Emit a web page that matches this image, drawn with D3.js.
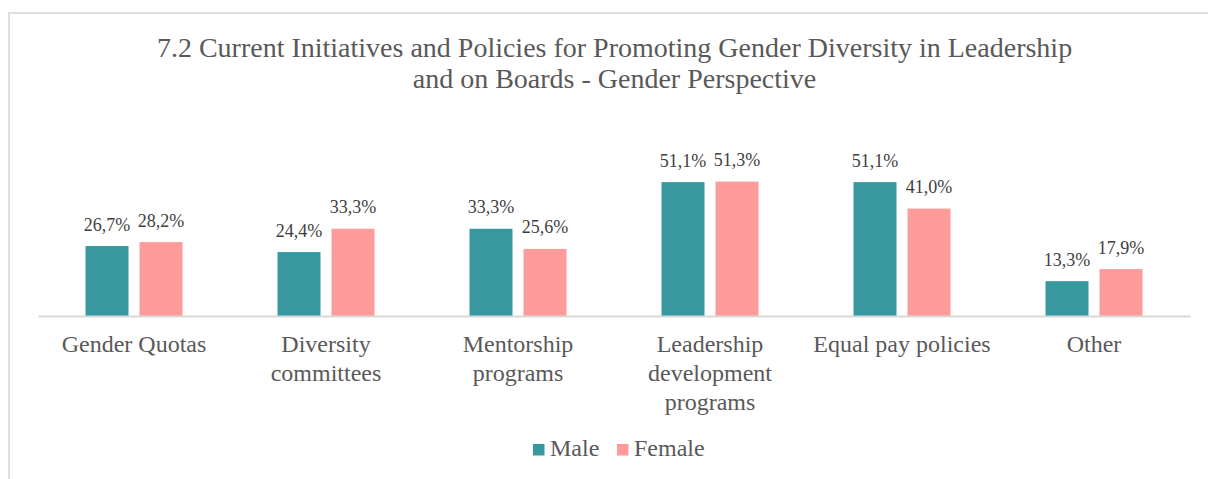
<!DOCTYPE html>
<html>
<head>
<meta charset="utf-8">
<script src="https://cdn.jsdelivr.net/npm/d3@7"></script>
<style>
  html, body { margin: 0; padding: 0; background: #fff; }
  svg { display: block; }
  text { font-family: "Liberation Serif", "Times New Roman", serif; }
</style>
</head>
<body>
<svg id="chart" width="1208" height="479"></svg>
<script>
const titleLines = ["7.2 Current Initiatives and Policies for Promoting Gender Diversity in Leadership", "and on Boards - Gender Perspective"];
const categories = ["Gender Quotas", "Diversity committees", "Mentorship programs", "Leadership development programs", "Equal pay policies", "Other"];
const categoryLines = [["Gender Quotas"], ["Diversity", "committees"], ["Mentorship", "programs"], ["Leadership", "development", "programs"], ["Equal pay policies"], ["Other"]];
const seriesNames = ["Male", "Female"];
const maleValues = [26.7, 24.4, 33.3, 51.1, 51.1, 13.3];
const femaleValues = [28.2, 33.3, 25.6, 51.3, 41.0, 17.9];
const seriesColors = ["#37999F", "#FF9B9A"];

const svg = d3.select("#chart");
const plot = { left: 38, right: 1190, bottom: 316, top: 158.8 };

// border
svg.append("rect")
  .attr("x", 9).attr("y", 13)
  .attr("width", 1400).attr("height", 1000)
  .attr("fill", "none").attr("stroke", "#d9d9d9").attr("stroke-width", 1.6);

// title
svg.append("g").selectAll("text").data(titleLines).join("text")
  .attr("x", 614.5).attr("y", (d, i) => 57 + i * 31)
  .attr("text-anchor", "middle")
  .attr("font-size", 28)
  .attr("fill", "#595959")
  .text(d => d);

const x0 = d3.scaleBand().domain(categories).range([plot.left, plot.right]).paddingInner(0).paddingOuter(0);
const x1 = d3.scaleBand().domain(seriesNames).range([0, x0.bandwidth()]).paddingInner(0.2037).paddingOuter(0.8796);
const y = d3.scaleLinear().domain([0, 60]).range([plot.bottom, plot.top]);

const rows = categories.map((c, i) => ({ cat: c, vals: [maleValues[i], femaleValues[i]] }));

const groups = svg.append("g").selectAll("g").data(rows).join("g")
  .attr("transform", d => `translate(${x0(d.cat)},0)`);

groups.selectAll("rect").data(d => d.vals.map((v, j) => ({ s: seriesNames[j], v, j })))
  .join("rect")
  .attr("x", d => x1(d.s))
  .attr("y", d => y(d.v))
  .attr("width", x1.bandwidth())
  .attr("height", d => y(0) - y(d.v))
  .attr("fill", d => seriesColors[d.j]);

groups.selectAll("text.lbl").data(d => d.vals.map((v, j) => ({ s: seriesNames[j], v, j })))
  .join("text").attr("class", "lbl")
  .attr("x", d => x1(d.s) + x1.bandwidth() / 2)
  .attr("y", d => y(d.v) - 15.5)
  .attr("text-anchor", "middle")
  .attr("font-size", 18)
  .attr("fill", "#404040")
  .text(d => d3.format(".1f")(d.v).replace(".", ",") + "%");

// baseline axis
const xAxis = d3.axisBottom(x0).tickSize(0).tickFormat("");
const ax = svg.append("g").attr("transform", `translate(0,${plot.bottom})`).call(xAxis);
ax.select(".domain").attr("stroke", "#d9d9d9").attr("stroke-width", 2);

// category labels
groups.append("text")
  .attr("text-anchor", "middle")
  .attr("font-size", 24)
  .attr("fill", "#595959")
  .selectAll("tspan").data((d, i) => categoryLines[i]).join("tspan")
  .attr("x", x0.bandwidth() / 2)
  .attr("y", (d, i) => 352 + i * 29)
  .text(d => d);

// legend
const legendItems = [{ name: "Male", x: 533 }, { name: "Female", x: 617 }];
const lg = svg.append("g").selectAll("g").data(legendItems).join("g")
  .attr("transform", d => `translate(${d.x},444)`);
lg.append("rect").attr("width", 11.5).attr("height", 11.5)
  .attr("fill", (d, i) => seriesColors[i]);
lg.append("text").attr("x", 17).attr("y", 11.7)
  .attr("font-size", 24)
  .attr("fill", "#595959")
  .text(d => d.name);
</script>
</body>
</html>
